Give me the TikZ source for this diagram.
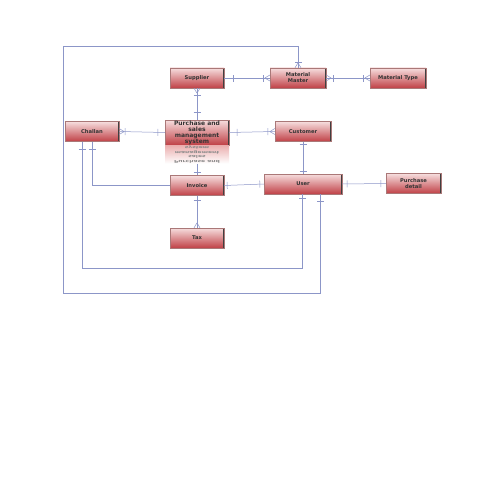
\documentclass[tikz,border=0pt]{standalone}
\usepackage{fontspec}
\setmainfont{DejaVu Sans}
\usepackage{tikz}
\usetikzlibrary{calc}
\usetikzlibrary{decorations.markings}

\definecolor{linkblue}{RGB}{140,150,200}
\definecolor{boxtop}{RGB}{246,222,222}
\definecolor{boxmid}{RGB}{226,140,140}
\definecolor{boxbot}{RGB}{192,64,70}
\definecolor{boxedge}{RGB}{170,120,120}

\tikzset{
  entity/.style={shade, top color=boxtop, middle color=boxmid, bottom color=boxbot,
    draw=boxedge, line width=0.3pt, minimum width=54pt, minimum height=20pt,
    inner sep=1pt, align=center, text=black!80,
    font=\fontsize{5.2}{6}\selectfont\bfseries,
    path picture={\draw[line width=1.6pt,black!75]
      (path picture bounding box.north east) -- (path picture bounding box.south east);}},
  link/.style={draw=linkblue, line width=0.5pt},
  onemark/.style={postaction={decorate,decoration={markings,
    mark=at position #1 with {\draw[link] (0,-3.5pt) -- (0,3.5pt);}}}},
  crowend/.style={postaction={decorate,decoration={markings,
    mark=at position 1 with {\draw[link] (-5pt,0) -- (0,3pt) (-5pt,0) -- (0,-3pt);}}}},
  crowstart/.style={postaction={decorate,decoration={markings,
    mark=at position 0.0001 with {\draw[link] (5pt,0) -- (0,3pt) (5pt,0) -- (0,-3pt);}}}},
}

\begin{document}
\begin{tikzpicture}[x=1pt,y=-1pt]
\useasboundingbox[fill=white] (0,0) rectangle (495,495);

% entities
\node[entity] (supplier) at (197,78) {Supplier};
\node[entity, minimum width=56pt] (master) at (298,78) {Material\\Master};
\node[entity, minimum width=56pt] (mtype) at (398,78) {Material Type};
\node[entity] (challan) at (92,131.5) {Challan};
\node[entity, minimum width=64pt, minimum height=25pt, inner sep=0pt,
  font=\fontsize{6}{6}\selectfont\bfseries] (pms) at (197,132.5)
  {Purchase and\\sales\\management\\system};
% mirrored reflection under the system box
\node[shade, top color=boxmid!70, bottom color=white, minimum width=64pt,
  minimum height=17pt, inner sep=0pt, text=black!45,
  font=\fontsize{6}{6}\selectfont\bfseries, anchor=north] (pmsr) at (pms.south)
  {\scalebox{1}[-0.62]{\shortstack{Purchase and\\sales\\management\\system}}};
\node[entity, minimum width=56pt] (customer) at (303,131.5) {Customer};
\node[entity] (invoice) at (197,185.5) {Invoice};
\node[entity, minimum width=78pt] (user) at (303,184) {User};
\node[entity, minimum width=55pt] (pdetail) at (413.5,183.5) {Purchase\\detail};
\node[entity] (tax) at (197,238) {Tax};

\coordinate (ui) at ([xshift=-1pt]user.south);
\coordinate (uo) at ([xshift=17pt]user.south);
\coordinate (cl) at ([xshift=-10pt]challan.south);

% relations
\draw[link, onemark=9pt, onemark=-7pt, crowend] (supplier.east) -- (master.west);
\draw[link, crowstart, onemark=7pt, onemark=-7pt, crowend] (master.east) -- (mtype.west);
\draw[link, crowstart, onemark=7pt, onemark=-8pt] (supplier.south) -- (pms.north);
\draw[link, onemark=7pt, onemark=-6pt, crowend] (pms.west) -- (challan.east);
\draw[link, onemark=8pt, onemark=-7pt, crowend] (pms.east) -- (customer.west);
\draw[link, onemark=3pt, onemark=-3pt] (customer.south) -- (user.north);
\draw[link, onemark=-3pt] (pmsr.south) -- (invoice.north);
\draw[link, onemark=3pt, onemark=-4pt] (invoice.east) -- (user.west);
\draw[link, onemark=5pt, crowend] (invoice.south) -- (tax.north);
\draw[link, onemark=5pt, onemark=-5pt] (user.east) -- (pdetail.west);

\draw[link, onemark=8pt] (challan.south) |- (invoice.west);
\draw[link, onemark=8pt, onemark=-4pt] (cl) |- ([yshift=-74pt]ui) -- (ui);
\draw[link, crowstart, onemark=6pt, onemark=-7pt] (master.north) |- (63,46)
  |- ([yshift=-99pt]uo) -- (uo);
\end{tikzpicture}
\end{document}
